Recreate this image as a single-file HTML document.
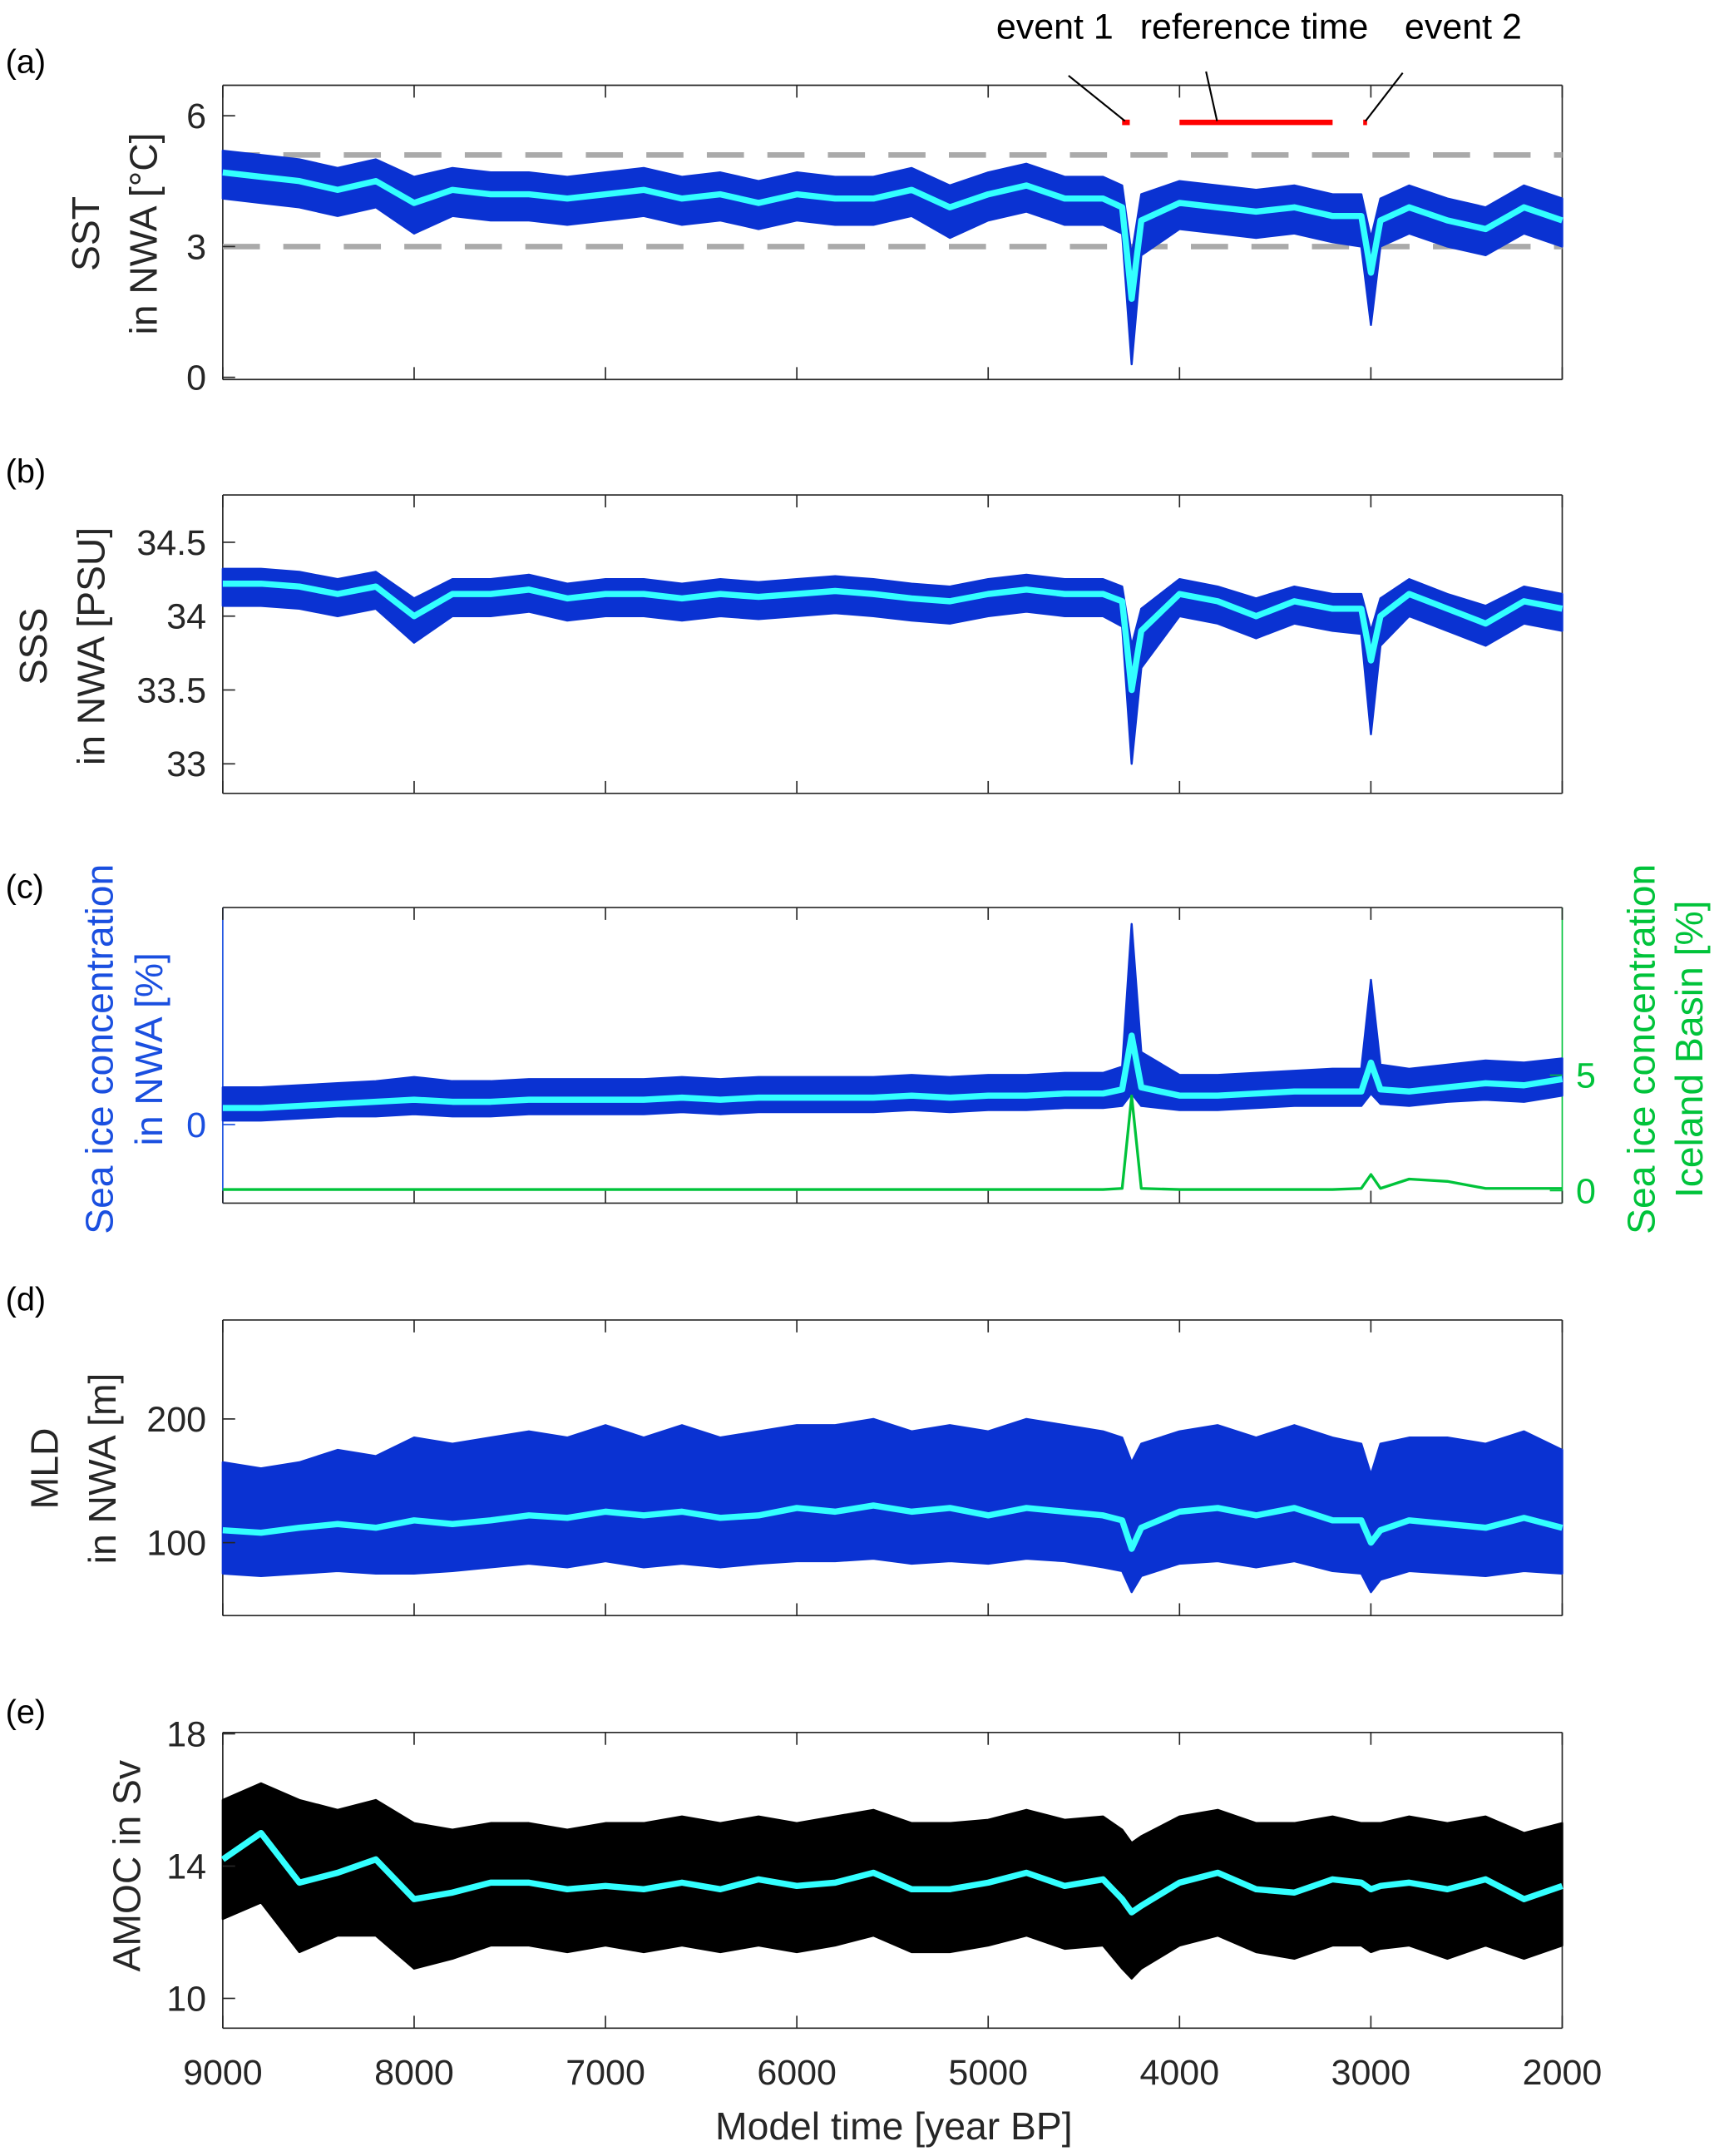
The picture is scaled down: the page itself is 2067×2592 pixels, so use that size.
<!DOCTYPE html>
<html><head><meta charset="utf-8"><style>
html,body{margin:0;padding:0;background:#fff;}
svg{display:block;font-family:"Liberation Sans",sans-serif;}
</style></head><body>
<svg id="fig" width="2067" height="2592" viewBox="0 0 1250 1568" preserveAspectRatio="none" xmlns="http://www.w3.org/2000/svg"></svg>
<script>
const years=[9000,8800,8600,8400,8200,8000,7800,7600,7400,7200,7000,6800,6600,6400,6200,6000,5800,5600,5400,5200,5000,4800,4600,4400,4300,4250,4200,4000,3800,3600,3400,3200,3050,3000,2950,2800,2600,2400,2200,2000];
const xTicks=[9000,8000,7000,6000,5000,4000,3000,2000];
const sstSmooth=[4.7,4.6,4.5,4.3,4.5,4.0,4.3,4.2,4.2,4.1,4.2,4.3,4.1,4.2,4.0,4.2,4.1,4.1,4.3,3.9,4.2,4.4,4.1,4.1,3.9,1.8,3.6,4.0,3.9,3.8,3.9,3.7,3.7,2.4,3.6,3.9,3.6,3.4,3.9,3.6];
const sstHi=[5.2,5.1,5.0,4.8,5.0,4.6,4.8,4.7,4.7,4.6,4.7,4.8,4.6,4.7,4.5,4.7,4.6,4.6,4.8,4.4,4.7,4.9,4.6,4.6,4.4,2.8,4.2,4.5,4.4,4.3,4.4,4.2,4.2,3.2,4.1,4.4,4.1,3.9,4.4,4.1];
const sstLo=[4.1,4.0,3.9,3.7,3.9,3.3,3.7,3.6,3.6,3.5,3.6,3.7,3.5,3.6,3.4,3.6,3.5,3.5,3.7,3.2,3.6,3.8,3.5,3.5,3.3,0.3,2.8,3.4,3.3,3.2,3.3,3.1,3.0,1.2,3.0,3.3,3.0,2.8,3.3,3.0];
const sstTicks=[0,3,6];
const sssSmooth=[34.22,34.22,34.2,34.15,34.2,34.0,34.15,34.15,34.18,34.12,34.15,34.15,34.12,34.15,34.13,34.15,34.17,34.15,34.12,34.1,34.15,34.18,34.15,34.15,34.1,33.5,33.9,34.15,34.1,34.0,34.1,34.05,34.05,33.7,34.0,34.15,34.05,33.95,34.1,34.05];
const sssHi=[34.32,34.32,34.3,34.25,34.3,34.12,34.25,34.25,34.28,34.22,34.25,34.25,34.22,34.25,34.23,34.25,34.27,34.25,34.22,34.2,34.25,34.28,34.25,34.25,34.2,33.8,34.05,34.25,34.2,34.12,34.2,34.15,34.15,33.9,34.12,34.25,34.15,34.07,34.2,34.15];
const sssLo=[34.07,34.07,34.05,34.0,34.05,33.82,34.0,34.0,34.03,33.97,34.0,34.0,33.97,34.0,33.98,34.0,34.02,34.0,33.97,33.95,34.0,34.03,34.0,34.0,33.93,33.0,33.65,34.0,33.95,33.85,33.95,33.9,33.88,33.2,33.8,34.0,33.9,33.8,33.95,33.9];
const sssTicks=[33,33.5,34,34.5];
const iceSmooth=[0.8,0.8,0.9,1.0,1.1,1.2,1.1,1.1,1.2,1.2,1.2,1.2,1.3,1.2,1.3,1.3,1.3,1.3,1.4,1.3,1.4,1.4,1.5,1.5,1.7,4.3,1.8,1.4,1.4,1.5,1.6,1.6,1.6,3.0,1.7,1.6,1.8,2.0,1.9,2.2];
const iceHi=[1.8,1.8,1.9,2.0,2.1,2.3,2.1,2.1,2.2,2.2,2.2,2.2,2.3,2.2,2.3,2.3,2.3,2.3,2.4,2.3,2.4,2.4,2.5,2.5,2.8,9.7,3.5,2.4,2.4,2.5,2.6,2.7,2.7,7.0,2.9,2.7,2.9,3.1,3.0,3.2];
const iceLo=[0.2,0.2,0.3,0.4,0.4,0.5,0.4,0.4,0.5,0.5,0.5,0.5,0.6,0.5,0.6,0.6,0.6,0.6,0.7,0.6,0.7,0.7,0.8,0.8,0.9,1.5,0.9,0.7,0.7,0.8,0.9,0.9,0.9,1.5,1.0,0.9,1.1,1.2,1.1,1.4];
const iceTicks=[0];
const icelandIce=[0.05,0.05,0.05,0.05,0.05,0.05,0.05,0.05,0.05,0.05,0.05,0.05,0.05,0.05,0.05,0.05,0.05,0.05,0.05,0.05,0.05,0.05,0.05,0.05,0.1,4.1,0.1,0.05,0.05,0.05,0.05,0.05,0.1,0.7,0.1,0.5,0.4,0.1,0.1,0.1];
const icelandTicks=[0,5];
const mldSmooth=[110,108,112,115,112,118,115,118,122,120,125,122,125,120,122,128,125,130,125,128,122,128,125,122,118,95,112,125,128,122,128,118,118,100,110,118,115,112,120,112];
const mldHi=[165,160,165,175,170,185,180,185,190,185,195,185,195,185,190,195,195,200,190,195,190,200,195,190,185,165,180,190,195,185,195,185,180,155,180,185,185,180,190,175];
const mldLo=[75,73,75,77,75,75,77,80,83,80,85,80,83,80,83,85,85,87,83,85,83,87,85,80,77,60,73,83,85,80,85,77,75,60,70,77,75,73,77,75];
const mldTicks=[100,200];
const amocSmooth=[14.2,15.0,13.5,13.8,14.2,13.0,13.2,13.5,13.5,13.3,13.4,13.3,13.5,13.3,13.6,13.4,13.5,13.8,13.3,13.3,13.5,13.8,13.4,13.6,13.0,12.6,12.8,13.5,13.8,13.3,13.2,13.6,13.5,13.3,13.4,13.5,13.3,13.6,13.0,13.4];
const amocHi=[16.0,16.5,16.0,15.7,16.0,15.3,15.1,15.3,15.3,15.1,15.3,15.3,15.5,15.3,15.5,15.3,15.5,15.7,15.3,15.3,15.4,15.7,15.4,15.5,15.1,14.7,14.9,15.5,15.7,15.3,15.3,15.5,15.3,15.3,15.3,15.5,15.3,15.5,15.0,15.3];
const amocLo=[12.4,12.9,11.4,11.9,11.9,10.9,11.2,11.6,11.6,11.4,11.6,11.4,11.6,11.4,11.6,11.4,11.6,11.9,11.4,11.4,11.6,11.9,11.5,11.6,10.9,10.6,10.9,11.6,11.9,11.4,11.2,11.6,11.6,11.4,11.5,11.6,11.2,11.6,11.2,11.6];
const amocTicks=[10,14,18];
const sstRefLines=[5.1,3.0];
const periodStart=[4300,4000,3040];
const periodEnd=[4260,3200,3020];

const NS="http://www.w3.org/2000/svg";
const svg=document.getElementById('fig');
const L=162,R=1136;
function X(yr){return L+(9000-yr)*(R-L)/7000;}
function mk(tag,attrs,parent){const e=document.createElementNS(NS,tag);for(const k in attrs)e.setAttribute(k,attrs[k]);(parent||svg).appendChild(e);return e;}
function txt(s,attrs,parent){const e=mk('text',attrs,parent);e.textContent=s;return e;}
function scale(d0,d1,top,bot){return v=>bot-(v-d0)*(bot-top)/(d1-d0);}
const GREY='#262626';

function panel(name,top,bot,d0,d1){
  const g=mk('g',{});
  
  
  const Y=scale(d0,d1,top,bot);
  return {g,Y,top,bot};
}
function frame(p,leftColor,rightColor){
  const g=p.g;
  const f=mk('g',{},g);
  
  
  mk('line',{x1:L,y1:p.top,x2:R,y2:p.top,stroke:GREY,'stroke-width':1},f);
  mk('line',{x1:L,y1:p.bot,x2:R,y2:p.bot,stroke:GREY,'stroke-width':1},f);
  mk('line',{x1:L,y1:p.top,x2:L,y2:p.bot,stroke:leftColor||GREY,'stroke-width':1},f);
  mk('line',{x1:R,y1:p.top,x2:R,y2:p.bot,stroke:rightColor||GREY,'stroke-width':1},f);
  xTicks.forEach(t=>{const x=X(t);
    mk('line',{x1:x,y1:p.top,x2:x,y2:p.top+9,stroke:GREY,'stroke-width':1},f);
    mk('line',{x1:x,y1:p.bot,x2:x,y2:p.bot-9,stroke:GREY,'stroke-width':1},f);});
}
function yTicks(p,ticks,color,side,Yf){
  const g=mk('g',{},p.g);
  
  
  const Y=Yf||p.Y;
  ticks.forEach(t=>{const y=Y(t);
    if(side==='right'){
      mk('line',{x1:R,y1:y,x2:R-9,y2:y,stroke:color,'stroke-width':1},g);
      txt(String(t),{x:R+10,y:y+9,'font-size':26,fill:color,'text-anchor':'start'},g);
    }else{
      mk('line',{x1:L,y1:y,x2:L+9,y2:y,stroke:color,'stroke-width':1},g);
      txt(String(t),{x:L-12,y:y+9,'font-size':26,fill:color,'text-anchor':'end'},g);
    }});
}
function band(p,hi,lo,color,Yf,name){
  const Y=Yf||p.Y;let d='';
  years.forEach((yr,i)=>{d+=(i?'L':'M')+X(yr).toFixed(1)+','+Y(hi[i]).toFixed(1);});
  for(let i=years.length-1;i>=0;i--)d+='L'+X(years[i]).toFixed(1)+','+Y(lo[i]).toFixed(1);
  const e=mk('path',{d:d+'Z',fill:color,stroke:color,'stroke-width':1.5,'stroke-linejoin':'round'},p.g);
  
  
}
function line(p,vals,color,w,Yf,name){
  const Y=Yf||p.Y;
  const pts=years.map((yr,i)=>X(yr).toFixed(1)+','+Y(vals[i]).toFixed(1)).join(' ');
  const e=mk('polyline',{points:pts,fill:'none',stroke:color,'stroke-width':w,'stroke-linejoin':'round'},p.g);
  
  
}
function ylabel(lines,xs,cy,color,parent){
  lines.forEach((s,i)=>{const e=txt(s,{x:xs[i],y:cy,'font-size':28,fill:color||GREY,'text-anchor':'middle',transform:`rotate(-90 ${xs[i]} ${cy})`},parent);
    
    });
}
function letter(s,y){const e=txt(s,{x:4,y:y,'font-size':24,fill:'#000'});
  
  }

const BLUE='#0a32d2',CYAN='#33ffff',GREEN='#00c33a',AXB='#1a4fe0';

// (a)
let pa=panel('panel-sst',62,276,-0.05,6.7);
frame(pa);
sstRefLines.forEach(v=>{const e=mk('line',{x1:L,y1:pa.Y(v),x2:R,y2:pa.Y(v),stroke:'#aaaaaa','stroke-width':4,'stroke-dasharray':'27,17'},pa.g);
  
  });
band(pa,sstHi,sstLo,BLUE,null,'sst-raw');
line(pa,sstSmooth,CYAN,4.5,null,'sst-smooth');
yTicks(pa,sstTicks,GREY);
ylabel(['SST','in NWA [°C]'],[72,114],170);
periodStart.forEach((s,i)=>{const e=mk('line',{x1:X(s),y1:89,x2:X(periodEnd[i]),y2:89,stroke:'#ff0000','stroke-width':4},pa.g);
  
  });
[[818,88,777,55],[885,88,877,52],[993,88,1020,53]].forEach(c=>{const e=mk('line',{x1:c[0],y1:c[1],x2:c[2],y2:c[3],stroke:'#000','stroke-width':1.3},pa.g);
  
  });
[['event 1',767],['reference time',912],['event 2',1064]].forEach(a=>{const e=txt(a[0],{x:a[1],y:28,'font-size':26,fill:'#000','text-anchor':'middle'});
  
  });
letter('(a)',53);

// (b)
let pb=panel('panel-sss',360,577,32.8,34.82);
frame(pb);
band(pb,sssHi,sssLo,BLUE,null,'sss-raw');
line(pb,sssSmooth,CYAN,4.5,null,'sss-smooth');
yTicks(pb,sssTicks,GREY);
ylabel(['SSS','in NWA [PSU]'],[34,76],470);
letter('(b)',351);

// (c)
let pc=panel('panel-sea-ice',660,875,-3.8,10.5);
const Yr=scale(-0.54,12.26,660,875);
frame(pc,AXB,GREEN);
band(pc,iceHi,iceLo,BLUE,null,'sea-ice-nwa-raw');
line(pc,iceSmooth,CYAN,4.5,null,'sea-ice-nwa-smooth');
line(pc,icelandIce,GREEN,2,Yr,'sea-ice-iceland');
yTicks(pc,iceTicks,AXB);
yTicks(pc,icelandTicks,GREEN,'right',Yr);
ylabel(['Sea ice concentration','in NWA [%]'],[82,118],763,AXB);
ylabel(['Sea ice concentration','Iceland Basin [%]'],[1203,1238],763,GREEN);
letter('(c)',653);

// (d)
let pd=panel('panel-mld',960,1175,41,280);
frame(pd);
band(pd,mldHi,mldLo,BLUE,null,'mld-raw');
line(pd,mldSmooth,CYAN,4.5,null,'mld-smooth');
yTicks(pd,mldTicks,GREY);
ylabel(['MLD','in NWA [m]'],[42,84],1068);
letter('(d)',953);

// (e)
let pe=panel('panel-amoc',1260,1475,9.1,18.04);
frame(pe);
band(pe,amocHi,amocLo,'#000',null,'amoc-raw');
line(pe,amocSmooth,CYAN,4.5,null,'amoc-smooth');
yTicks(pe,amocTicks,GREY);
ylabel(['AMOC in Sv'],[102],1357);
letter('(e)',1253);

const xl=mk('g',{});


xTicks.forEach(t=>txt(String(t),{x:X(t),y:1516,'font-size':26,fill:GREY,'text-anchor':'middle'},xl));
const xt=txt('Model time [year BP]',{x:650,y:1556,'font-size':28,fill:GREY,'text-anchor':'middle'});


</script>
</body></html>
